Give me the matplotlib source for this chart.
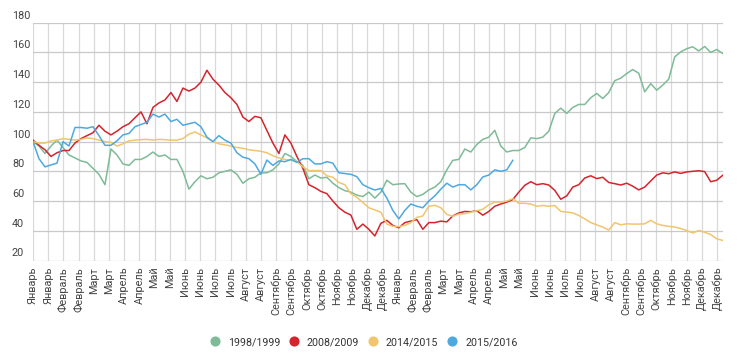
import numpy as np
import matplotlib
matplotlib.use("Agg")
import matplotlib.pyplot as plt
from matplotlib.lines import Line2D
from matplotlib.transforms import blended_transform_factory, ScaledTranslation

plt.rcParams['font.family'] = ['Roboto', 'DejaVu Sans']

# ---------------- data ----------------
step_days = 6  # sampling step of the series (days)

series_names = ["1998/1999", "2008/2009", "2014/2015", "2015/2016"]
series_colors = ["#7fbb97", "#d4242e", "#f0c56e", "#4ea9e0"]

green = [100, 97, 92, 97, 101, 96, 91, 89, 87, 86, 82, 78, 71, 95, 91, 85, 84, 88, 88, 90,
         93, 90, 91, 88, 88, 80, 68, 73, 77, 75,
         76, 79, 80, 81, 78, 72, 75, 76, 79, 79, 81, 85, 92, 90, 86.5, 84, 75, 77.5, 75.5, 76,
         72, 69, 67, 66, 64, 63, 66, 62, 66,
         74, 71, 71.5, 71.7, 66, 63, 64.5, 67.5, 69.4, 73, 81, 87.4, 88, 95, 93, 98, 101.5, 103,
         107.6, 97, 93, 94, 94, 96, 102.5, 102, 103, 107,
         118.9, 122.5, 119, 123, 125, 125, 129.5, 132.4, 129, 133, 141, 142.7, 145.8, 148.5, 146,
         133.5, 139, 134.6, 138, 142, 157, 160.4, 162.5, 163.8, 161, 164, 160, 162, 159.3]

red = [101, 97.5, 94.5, 90, 92.5, 94, 94, 99, 102, 104, 106, 111, 107, 104.5, 107, 110, 112,
       116, 120, 112, 123, 126, 128, 133, 127, 136, 134, 136, 140, 148,
       142, 138, 133, 129.5, 125, 116.5, 113.5, 117, 116, 107.5, 99, 92, 104.5, 99, 90, 82, 71,
       69, 66.5, 65, 60, 55.5, 52.5, 50.6, 41, 44.5, 41, 36.5, 45,
       47, 43.6, 42, 45.5, 46.5, 47.5, 41, 45.5, 45.5, 46.5, 46, 50, 52, 53, 52.8, 53.5, 50.5,
       53, 56.5, 58, 59.3, 61, 66, 70.6, 73, 71, 71.7, 70.8,
       67.2, 61.2, 63.5, 69.4, 71, 75.5, 77, 75.1, 76, 72.5, 71.7, 70.8, 72, 70, 67.5, 69.4,
       73.5, 77.5, 79, 78.4, 79.6, 78.6, 79.6, 80, 80.4, 79.8, 73, 74, 77.3]

yellow = [100, 99, 99, 100.5, 101, 102, 101.5, 101, 101.5, 102.5, 102, 101, 100, 99.5, 97,
          98.5, 100.5, 101, 101.3, 101.5, 101, 101.5, 101.3, 101, 101, 102, 105, 106.5, 104.5, 102.5,
          100, 98.5, 97.8, 97, 96, 95.5, 94.5, 94, 93.5, 92.5, 90.5, 89, 88, 87.5, 86.5, 83, 80.5,
          80.5, 80.5, 77, 76, 72.5, 71, 65, 62.5, 59, 55.5, 54, 52.5,
          44.5, 43, 42.8, 43.6, 45.5, 49, 50, 56.5, 57.1, 55.5, 51, 49.8, 51.2, 51.5, 52.5, 53.5,
          54.5, 57.5, 59.3, 59.3, 60, 61.6, 58.5, 58.5, 58, 56.5, 57, 56.5,
          57, 53, 52.6, 52, 50.3, 48, 45.5, 44, 42.5, 40.5, 45.5, 44, 44.7, 44.5, 44.5, 44.7, 47,
          44.7, 43.6, 43, 42.5, 41.5, 40.2, 38.5, 40.2, 39, 37.5, 34.6, 33.5]

blue = [100, 88.5, 83, 84.3, 85.5, 100, 97, 109.5, 109.5, 109, 110, 104, 97.5, 97.5, 100.5,
        104.5, 105.5, 110, 111.5, 113, 118.5, 116.5, 118.5, 113.5, 115, 111, 112, 113, 110, 103,
        100, 104, 101, 99, 92.5, 89.5, 88.5, 85, 78, 87.6, 84, 87, 86.5, 88, 86, 88.5, 88.5, 85,
        85, 86.5, 85.5, 79, 78.5, 78, 76.4, 71, 69, 67.4, 68.5,
        62, 53.7, 48, 53.7, 58, 56.5, 55.5, 60, 63.5, 68, 72, 69.4, 71, 71, 67.5, 71, 76.2, 77.5,
        81, 80, 81, 87.4]

months = ["Январь", "Февраль", "Март", "Апрель", "Май", "Июнь", "Июль", "Август",
          "Сентябрь", "Октябрь", "Ноябрь", "Декабрь"]
tick_labels = ([m for m in months for _ in range(2)] +
               ["Январь", "Февраль", "Февраль", "Март", "Март", "Апрель", "Апрель", "Май", "Май",
                "Июнь", "Июнь", "Июль", "Июль", "Август", "Август", "Сентябрь", "Сентябрь",
                "Октябрь", "Ноябрь", "Ноябрь", "Декабрь", "Декабрь"])
tick_step_days = 365 / 24
y_ticks = [20, 40, 60, 80, 100, 120, 140, 160, 180]

# ---------------- figure ----------------
W, H = 750, 358
fig = plt.figure(figsize=(W / 100, H / 100), dpi=100)
ax = fig.add_axes([33 / W, 1 - 260.5 / H, (722.7 - 33) / W, (260.5 - 22.7) / H])

all_series = [green, red, yellow, blue]
for vals, col in zip(all_series, series_colors):
    x = np.arange(len(vals)) * step_days
    ax.plot(x, vals, color=col, lw=1.1, solid_joinstyle='round', zorder=3)

ax.set_xlim(0, 690)
ax.set_ylim(20, 180)

xt = np.arange(len(tick_labels)) * tick_step_days
ax.set_xticks(xt)
ax.set_xticklabels(tick_labels, rotation=90, fontsize=7.8, color='#444444')
ax.tick_params(axis='x', length=0, pad=4.5)
ax.set_yticks(y_ticks)
ax.tick_params(axis='y', length=0, labelleft=False)

ax.grid(axis='x', color='#d9d9d9', lw=0.9, zorder=0)
ax.grid(axis='y', color='#c9c9c9', lw=0.9, zorder=0)
for s in ax.spines.values():
    s.set_visible(False)

trans = blended_transform_factory(ax.transAxes, ax.transData) + ScaledTranslation(0, 2 / 100, fig.dpi_scale_trans)
for v in y_ticks:
    ax.text((12 - 33) / (722.7 - 33), v, str(v), transform=trans, ha='left', va='bottom',
            fontsize=7.8, color='#444444')

handles = [Line2D([], [], ls='none', marker='o', markersize=7.3, color=c, markeredgewidth=0)
           for c in series_colors]
fig.legend(handles, series_names, loc='center', bbox_to_anchor=(364 / W, 1 - 342 / H), ncol=4,
           frameon=False, fontsize=7.7, handlelength=0.8, handletextpad=0.8, columnspacing=0.9,
           labelcolor='#333333')

fig.savefig("out.png", dpi=100)
